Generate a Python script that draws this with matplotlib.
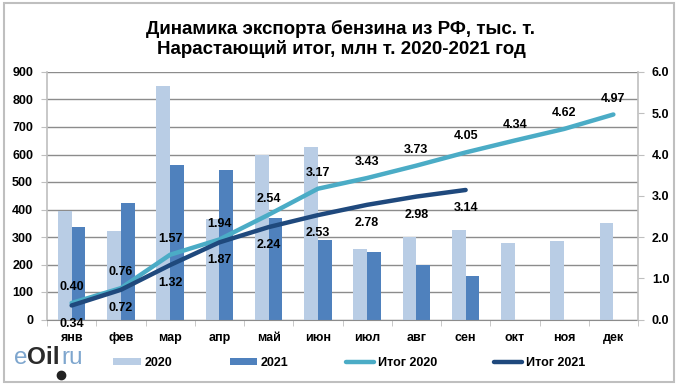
import matplotlib
matplotlib.use("Agg")
import matplotlib.pyplot as plt
import numpy as np
from matplotlib.patches import Rectangle
from matplotlib.lines import Line2D
from matplotlib.ticker import FixedLocator, NullFormatter

plt.rcParams['font.family'] = ['Liberation Sans', 'DejaVu Sans']

months = ['янв', 'фев', 'мар', 'апр', 'май', 'июн', 'июл', 'авг', 'сен', 'окт', 'ноя', 'дек']
exp2020 = [395, 322, 850, 365, 600, 627, 255, 300, 325, 280, 285, 350]
exp2021 = [335, 425, 562, 545, 370, 290, 245, 200, 158]
cum2020 = [0.40, 0.76, 1.57, 1.94, 2.54, 3.17, 3.43, 3.73, 4.05, 4.34, 4.62, 4.97]
cum2021 = [0.34, 0.72, 1.32, 1.87, 2.24, 2.53, 2.78, 2.98, 3.14]
left_ticks = [0, 100, 200, 300, 400, 500, 600, 700, 800, 900]
right_ticks = [0.0, 1.0, 2.0, 3.0, 4.0, 5.0, 6.0]

W, H = 682, 389
fig = plt.figure(figsize=(W / 100, H / 100), dpi=100)
ax = fig.add_axes([47 / W, 1 - 319.5 / H, (638 - 47) / W, (319.5 - 72) / H])

c20, c21 = '#B9CDE5', '#4F81BD'
l20, l21 = '#4BACC6', '#1F497D'
gridc = '#8C8C8C'
spinec = '#BFBFBF'

x = np.arange(len(months))
bw = 0.28
ax.bar(x[:len(exp2020)] - bw / 2, exp2020, width=bw, color=c20, label='2020', zorder=2)
ax.bar(x[:len(exp2021)] + bw / 2, exp2021, width=bw, color=c21, label='2021', zorder=2)

ax.set_xlim(-0.5, len(months) - 0.5)
ax.set_ylim(0, 900)
ax.set_yticks(left_ticks)
ax.set_yticklabels([str(v) for v in left_ticks])
ax.set_xticks(x)
ax.set_xticklabels(months)
ax.xaxis.set_minor_locator(FixedLocator(np.arange(-0.5, len(months), 1.0)))
ax.xaxis.set_minor_formatter(NullFormatter())
ax.tick_params(axis='x', which='major', length=0, pad=9, labelsize=9)
ax.tick_params(axis='x', which='minor', length=4, color=spinec, direction='out')
ax.tick_params(axis='y', length=4, color=spinec, pad=6, labelsize=9)
for lab in ax.get_xticklabels() + ax.get_yticklabels():
    lab.set_fontweight('bold')
ax.grid(axis='y', color=gridc, linewidth=1.0, zorder=0)
ax.set_axisbelow(True)
for s in ['top', 'right']:
    ax.spines[s].set_visible(False)
ax.spines['left'].set_color(spinec)
ax.spines['bottom'].set_color(gridc)
ax.spines['left'].set_linewidth(1.2)

ax2 = ax.twinx()
ax2.set_ylim(0, 6)
ax2.set_yticks(right_ticks)
ax2.set_yticklabels(['%.1f' % v for v in right_ticks])
ax2.tick_params(axis='y', length=4, color=spinec, pad=6, labelsize=9)
for lab in ax2.get_yticklabels():
    lab.set_fontweight('bold')
for s in ['top', 'left', 'bottom']:
    ax2.spines[s].set_visible(False)
ax2.spines['right'].set_color(spinec)
ax2.spines['right'].set_linewidth(1.2)

ax2.plot(x[:len(cum2020)], cum2020, color=l20, lw=3.2, solid_capstyle='round', label='Итог 2020', zorder=3)
ax2.plot(x[:len(cum2021)], cum2021, color=l21, lw=3.2, solid_capstyle='round', label='Итог 2021', zorder=3)

for xi, v in zip(x, cum2020):
    ax2.annotate('%.2f' % v, (xi, v), xytext=(0, 11.5), textcoords='offset points',
                 ha='center', va='center', fontsize=9, fontweight='bold', color='black', zorder=5)
for xi, v in zip(x, cum2021):
    ax2.annotate('%.2f' % v, (xi, v), xytext=(0, -13), textcoords='offset points',
                 ha='center', va='center', fontsize=9, fontweight='bold', color='black', zorder=5)

# Title
fig.text(0.5, 1 - 39 / H, 'Динамика экспорта бензина из РФ, тыс. т.\nНарастающий итог, млн т. 2020-2021 год',
         ha='center', va='center', fontsize=13.5, fontweight='bold', linespacing=1.1)

# Legend
h1, lab1 = ax.get_legend_handles_labels()
h2, lab2 = ax2.get_legend_handles_labels()
leg = fig.legend(h1 + h2, lab1 + lab2, loc='center', bbox_to_anchor=(349 / W, 1 - 363 / H),
                 ncol=4, frameon=False, handlelength=2.2, handleheight=0.55, handletextpad=0.3,
                 columnspacing=4.6, prop={'size': 9, 'weight': 'bold'})

# Logo
fig.text(14 / W, 1 - 358 / H, 'e', color='#7EA6CE', fontsize=17.5, ha='left', va='center')
fig.text(27 / W, 1 - 358 / H, 'Oil', color='#2B2B2B', fontsize=17.5, ha='left', va='center', fontweight='bold')
fig.text(61 / W, 1 - 358 / H, 'ru', color='#7EA6CE', fontsize=17.5, ha='left', va='center')
fig.add_artist(Line2D([61 / W], [1 - 375 / H], transform=fig.transFigure, marker='o',
                      markersize=6, color='#222222', linestyle='none'))

# Outer border
fig.patches.append(Rectangle((4 / W, 1 - 382 / H), (674 - 4) / W, (382 - 3) / H, transform=fig.transFigure,
                             fill=False, edgecolor='#BFBFBF', linewidth=1.5))

fig.savefig('out.png', dpi=100)
